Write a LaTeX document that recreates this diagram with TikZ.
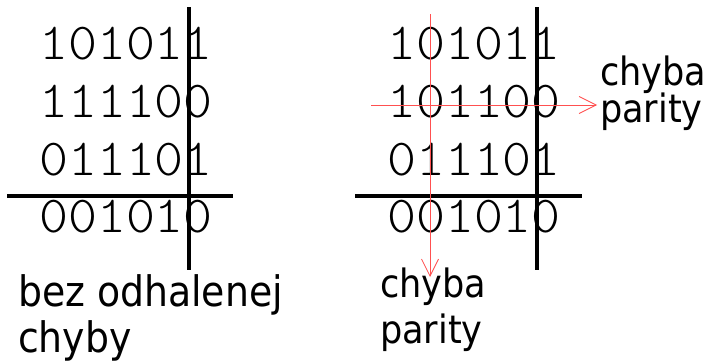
\documentclass[tikz,border=0pt]{standalone}
\usepackage{fontspec}
\usepackage{tikz}
\usetikzlibrary{arrows.meta}
\newfontfamily\bitfont[FakeStretch=1.06]{Latin Modern Mono Light}
\newfontfamily\lblfont{DejaVu Sans Condensed}
\definecolor{errred}{RGB}{255,80,80}
\tikzset{
  bits/.style={anchor=base west,inner sep=0pt,font=\bitfont\fontsize{52}{52}\selectfont},
  lbl/.style={anchor=base west,inner sep=0pt,font=\lblfont\fontsize{39}{39}\selectfont},
  biglbl/.style={lbl,font=\lblfont\fontsize{42}{42}\selectfont},
  bar/.style={line width=3.5pt},
  errline/.style={errred,line width=0.8pt,-{Straight Barb[length=17pt,width=17pt,line width=0.8pt]}}
}

\begin{document}
\begin{tikzpicture}[x=1pt,y=-1pt]
    \useasboundingbox (0,0) rectangle (712,364);
    \node[bits] (a1) at (39,59) {101011};
    \node[bits] (a2) at (39,117) {111100};
    \node[bits] (a3) at (39,175) {011101};
    \node[bits] (a4) at (39,232) {001010};
    \draw[bar] (189,7) -- (189,270);
    \draw[bar] (7,196) -- (233,196);
    \node[biglbl] (okA) at (18,306) {bez odhalenej};
    \node[biglbl] (okB) at ([yshift=-46pt]okA.base west) {chyby};

    \node[bits] (b1) at (387,59) {101011};
    \node[bits] (b2) at (387,117) {101100};
    \node[bits] (b3) at (387,175) {011101};
    \node[bits] (b4) at (387,232) {001010};
    \draw[bar] (537,7) -- (537,270);
    \draw[bar] (355,196) -- (582,196);
    \coordinate (rowS) at (371,105);
    \coordinate (rowE) at (597,105);
    \coordinate (colS) at (430,14);
    \coordinate (colE) at (430,277);
    \draw[errline] (rowS) -- (rowE);
    \draw[errline] (colS) -- (colE);
    \node[lbl] (rowA) at (600,85) {chyba};
    \node[lbl] (rowB) at ([yshift=-37pt]rowA.base west) {parity};
    \node[lbl] (colA) at (380,297) {chyba};
    \node[lbl] (colB) at ([yshift=-46pt]colA.base west) {parity};
  \end{tikzpicture}
\end{document}
